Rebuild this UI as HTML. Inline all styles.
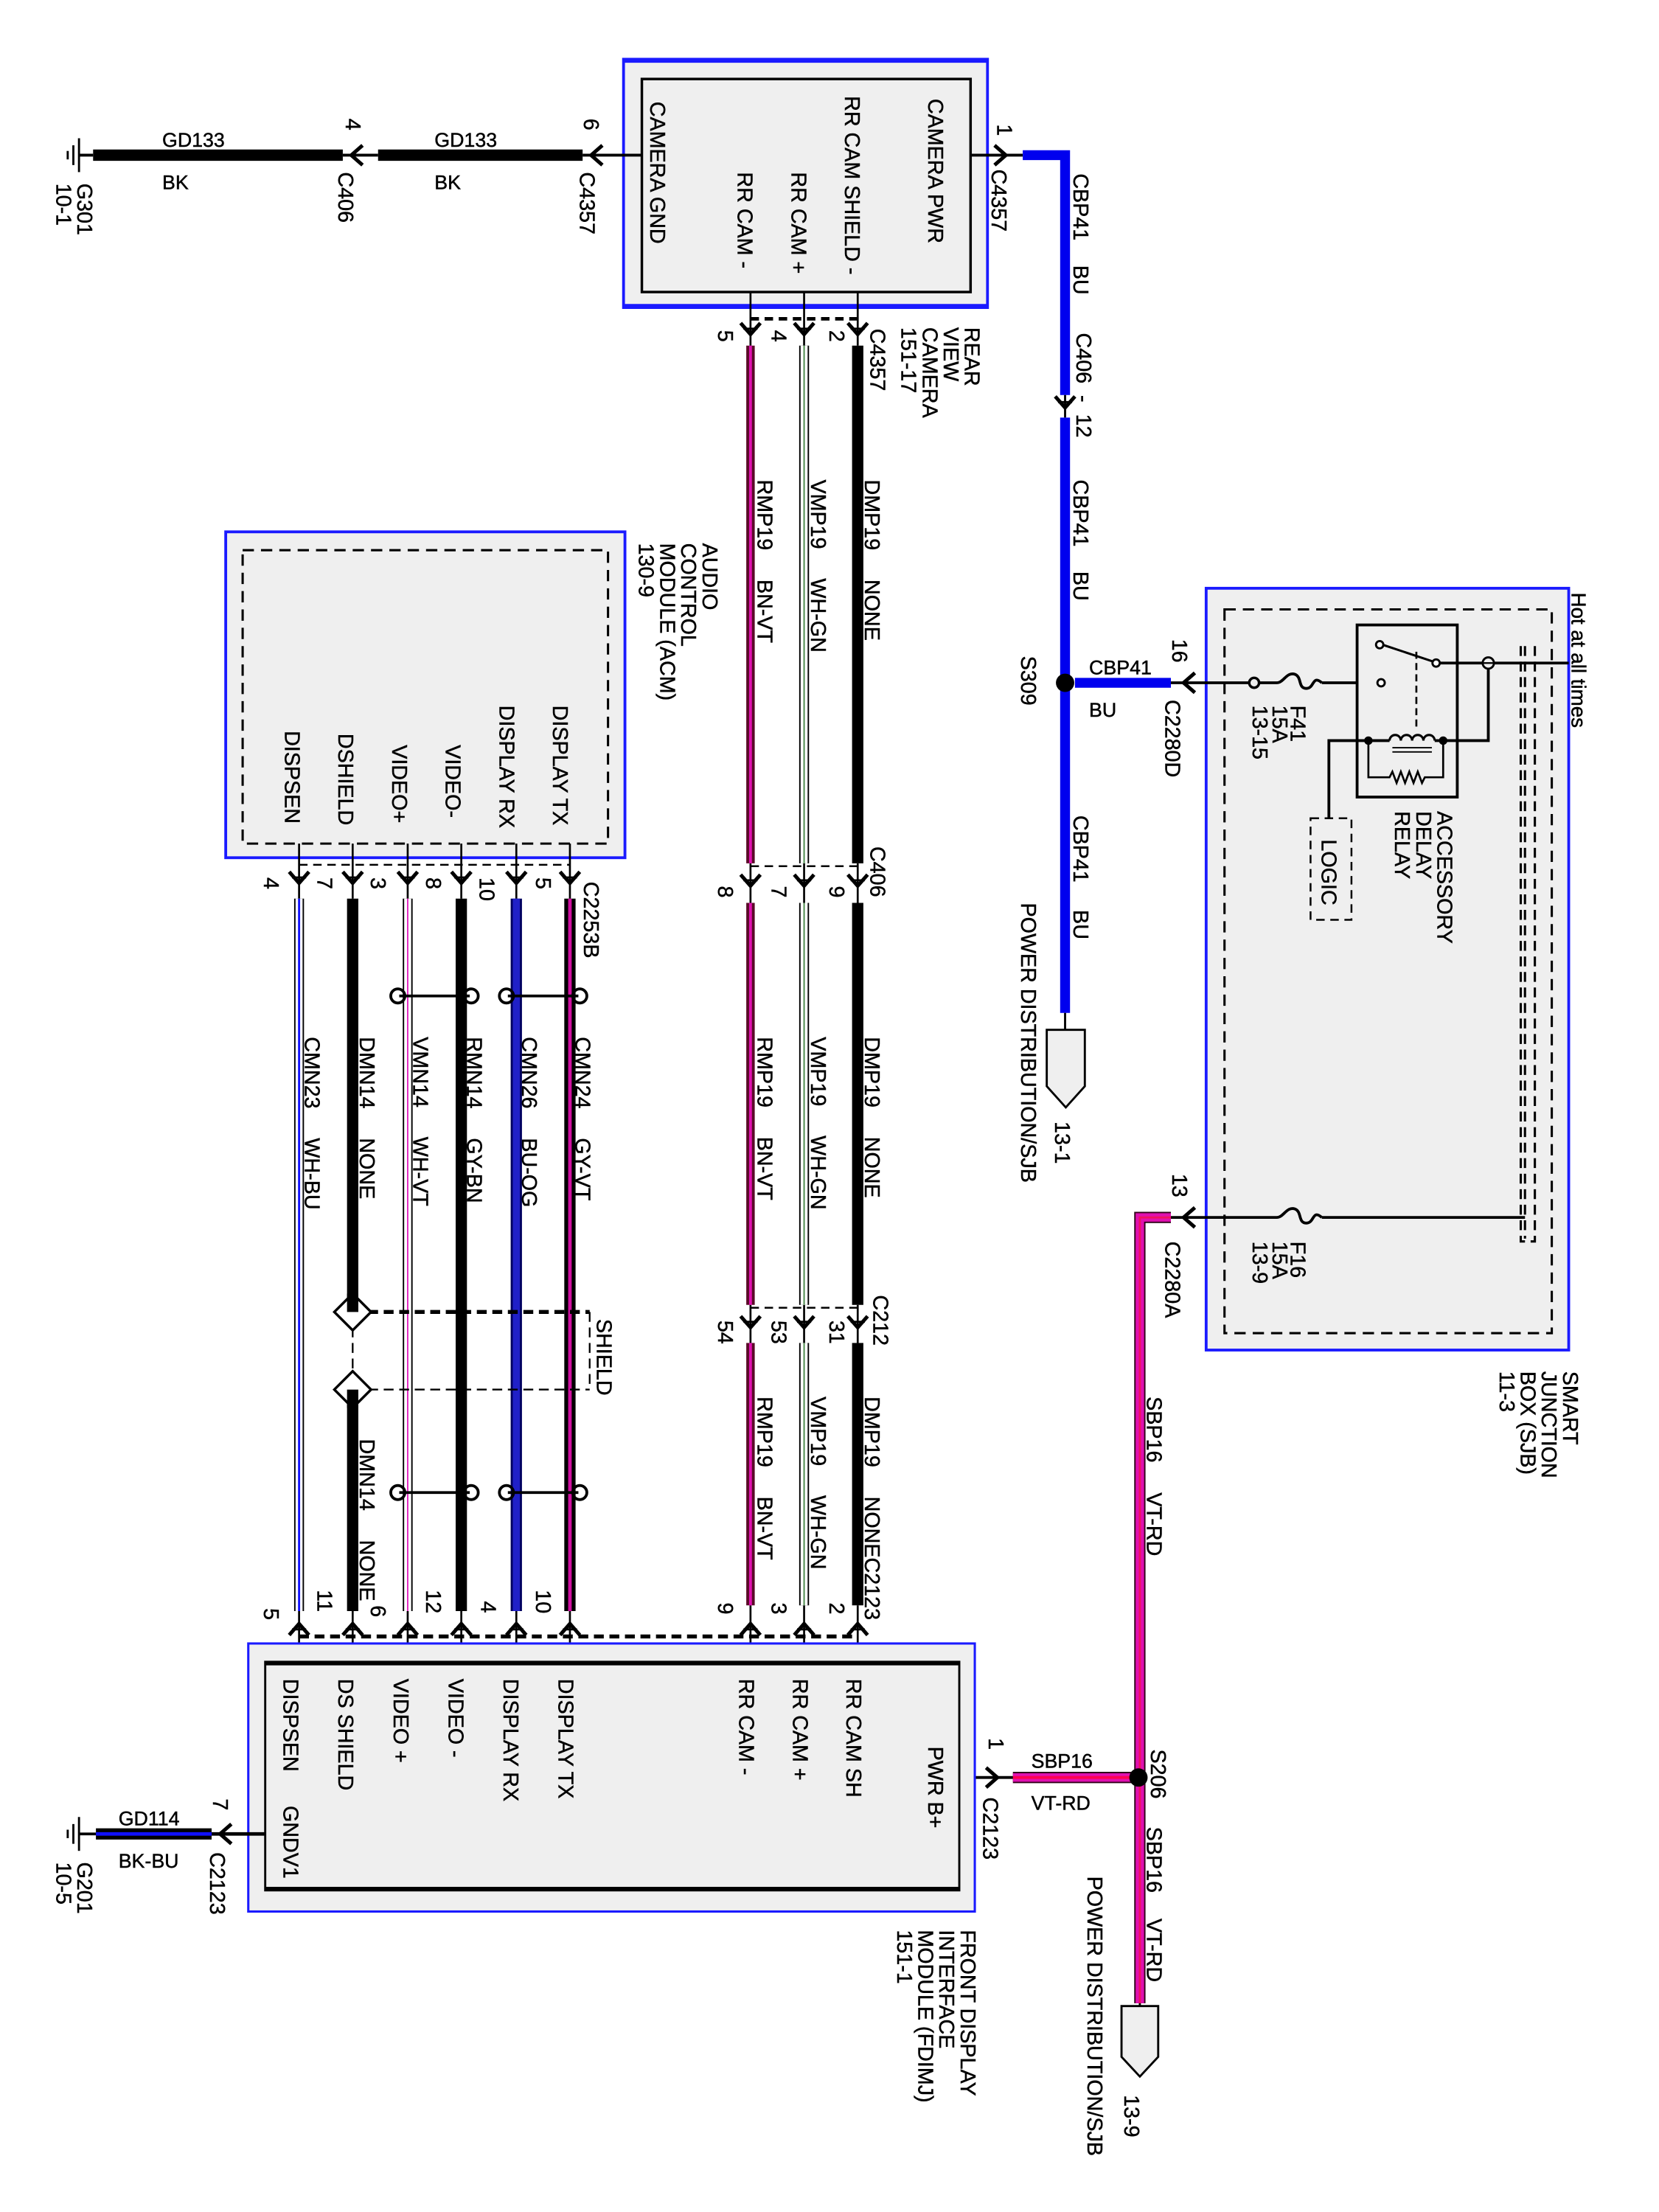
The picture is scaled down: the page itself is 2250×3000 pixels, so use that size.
<!DOCTYPE html>
<html><head><meta charset="utf-8"><style>
html,body{margin:0;padding:0;background:#fff}
svg{display:block}
text{font-family:"Liberation Sans",Arial,sans-serif;font-size:15px;fill:#000;white-space:pre;stroke:#000;stroke-width:0.25px}
.h{font-size:14px}
</style></head><body>
<svg width="2250" height="3000" viewBox="0 0 1176 1568" xmlns="http://www.w3.org/2000/svg" xml:space="preserve">
<defs>
<g id="cd"><polyline points="-7,-7 0,1 7,-7" fill="none" stroke="#000" stroke-width="2.6"/><line x1="-5" y1="-3" x2="5" y2="-3" stroke="#000" stroke-width="1.5"/></g>
<g id="cu"><polyline points="-7,7 0,-1 7,7" fill="none" stroke="#000" stroke-width="2.6"/><line x1="-5" y1="3" x2="5" y2="3" stroke="#000" stroke-width="1.5"/></g>
<g id="cl"><polyline points="7,-7 -1,0 7,7" fill="none" stroke="#000" stroke-width="2.6"/></g>
<g id="cr"><polyline points="-7,-7 1,0 -7,7" fill="none" stroke="#000" stroke-width="2.6"/></g>
</defs>

<!-- ========== REAR VIEW CAMERA ========== -->
<rect x="442" y="42" width="258" height="176" fill="#efefef" stroke="#1a1aff" stroke-width="2"/>
<line x1="442" y1="43" x2="700" y2="43" stroke="#1a1aff" stroke-width="3"/>
<line x1="442" y1="217" x2="700" y2="217" stroke="#1a1aff" stroke-width="3"/>
<rect x="455" y="56" width="233" height="151" fill="#efefef" stroke="#000" stroke-width="1.8"/>
<text transform="translate(658,70) rotate(90)">CAMERA PWR</text>
<text transform="translate(599,68) rotate(90)">RR CAM SHIELD -</text>
<text transform="translate(561,122) rotate(90)">RR CAM +</text>
<text transform="translate(523,122) rotate(90)">RR CAM -</text>
<text transform="translate(461,72) rotate(90)">CAMERA GND</text>
<text transform="translate(684,232) rotate(90)">REAR</text>
<text transform="translate(669,232) rotate(90)">VIEW</text>
<text transform="translate(654,232) rotate(90)">CAMERA</text>
<text transform="translate(639,232) rotate(90)">151-17</text>

<!-- ground G301 -->
<line x1="56" y1="98" x2="56" y2="122" stroke="#000" stroke-width="1.5"/>
<line x1="52" y1="103" x2="52" y2="117" stroke="#000" stroke-width="1.5"/>
<line x1="48" y1="107" x2="48" y2="113" stroke="#000" stroke-width="1.5"/>
<line x1="56" y1="110" x2="66" y2="110" stroke="#000" stroke-width="2"/>
<line x1="66" y1="110" x2="243" y2="110" stroke="#000" stroke-width="8"/>
<line x1="243" y1="110" x2="268" y2="110" stroke="#000" stroke-width="2"/>
<use href="#cl" x="250" y="110"/>
<line x1="268" y1="110" x2="413" y2="110" stroke="#000" stroke-width="8"/>
<line x1="413" y1="110" x2="455" y2="110" stroke="#000" stroke-width="2"/>
<use href="#cl" x="420" y="110"/>
<text class="h" x="115" y="104">GD133</text>
<text class="h" x="115" y="134">BK</text>
<text class="h" x="308" y="104">GD133</text>
<text class="h" x="308" y="134">BK</text>
<text transform="translate(245,84) rotate(90)">4</text>
<text transform="translate(414,84) rotate(90)">6</text>
<text transform="translate(240,122) rotate(90)">C406</text>
<text transform="translate(411,122) rotate(90)">C4357</text>
<text transform="translate(55,130) rotate(90)">G301</text>
<text transform="translate(40,130) rotate(90)">10-1</text>

<!-- CAMERA PWR -> blue -->
<line x1="688" y1="110" x2="725" y2="110" stroke="#000" stroke-width="2"/>
<use href="#cr" x="712" y="110"/>
<text transform="translate(707,88) rotate(90)">1</text>
<text transform="translate(703,120) rotate(90)">C4357</text>
<polyline points="725,110 755,110 755,280" fill="none" stroke="#0000ee" stroke-width="7"/>
<line x1="755" y1="280" x2="755" y2="296" stroke="#000" stroke-width="1.5"/>
<use href="#cd" x="755" y="288"/>
<line x1="755" y1="296" x2="755" y2="718" stroke="#0000ee" stroke-width="7"/>
<text transform="translate(761,123) rotate(90)">CBP41</text>
<text transform="translate(761,188) rotate(90)">BU</text>
<text transform="translate(763,236) rotate(90)">C406  -  12</text>
<text transform="translate(761,340) rotate(90)">CBP41</text>
<text transform="translate(761,405) rotate(90)">BU</text>
<text transform="translate(761,578) rotate(90)">CBP41</text>
<text transform="translate(761,645) rotate(90)">BU</text>
<text transform="translate(724,465) rotate(90)">S309</text>
<circle cx="755" cy="484" r="6.5" fill="#000"/>
<line x1="762" y1="484" x2="830" y2="484" stroke="#0000ee" stroke-width="7"/>
<text class="h" x="772" y="478">CBP41</text>
<text class="h" x="772" y="508">BU</text>
<!-- power dist 13-1 -->
<line x1="755" y1="718" x2="755" y2="730" stroke="#000" stroke-width="1.5"/>
<path d="M742,730 H769 V770 L755.5,785 L742,770 Z" fill="#efefef" stroke="#000" stroke-width="1.5"/>
<text transform="translate(724,640) rotate(90)">POWER DISTRIBUTION/SJB</text>
<text transform="translate(748,795) rotate(90)">13-1</text>

<!-- ========== SJB ========== -->
<rect x="855" y="417" width="257" height="540" fill="#efefef" stroke="#1a1aff" stroke-width="2"/>
<rect x="868" y="432" width="232" height="513" fill="none" stroke="#000" stroke-width="1.6" stroke-dasharray="8,5"/>
<line x1="830" y1="484" x2="979" y2="484" stroke="#000" stroke-width="2"/>
<use href="#cl" x="840" y="484"/>
<text transform="translate(831,453) rotate(90)">16</text>
<text transform="translate(826,496) rotate(90)">C2280D</text>
<rect x="905" y="478" width="32" height="12" fill="#efefef"/>
<path d="M905,484 C910,484 912,476 918,478 C923,480 920,488 926,488 C932,488 930,478 937,484" fill="none" stroke="#000" stroke-width="2"/>
<circle cx="889" cy="484" r="3.5" fill="#efefef" stroke="#000" stroke-width="1.8"/>
<text transform="translate(915,500) rotate(90)">F41</text>
<text transform="translate(902,500) rotate(90)">15A</text>
<text transform="translate(888,500) rotate(90)">13-15</text>
<!-- relay -->
<rect x="962" y="443" width="71" height="122" fill="#efefef" stroke="#000" stroke-width="2"/>
<circle cx="979" cy="484" r="2.6" fill="#fff" stroke="#000" stroke-width="1.5"/>
<circle cx="978" cy="457" r="2.6" fill="#fff" stroke="#000" stroke-width="1.5"/>
<line x1="980" y1="457" x2="1016" y2="469" stroke="#000" stroke-width="1.6"/>
<circle cx="1018" cy="470" r="2.6" fill="#fff" stroke="#000" stroke-width="1.5"/>
<line x1="1004" y1="462" x2="1004" y2="518" stroke="#000" stroke-width="1.4" stroke-dasharray="5,3"/>
<line x1="1021" y1="470" x2="1112" y2="470" stroke="#000" stroke-width="2"/>
<circle cx="1055" cy="470" r="4" fill="#efefef" stroke="#000" stroke-width="1.5"/>
<line x1="1051" y1="470" x2="1059" y2="470" stroke="#000" stroke-width="1.2"/>
<polyline points="942,580 942,525 985,525" fill="none" stroke="#000" stroke-width="2"/>
<path d="M985,525 a4,4 0 0 1 8,0 a4,4 0 0 1 8,0 a4,4 0 0 1 8,0 a4,4 0 0 1 8,0" fill="none" stroke="#000" stroke-width="1.6"/>
<line x1="987" y1="530" x2="1015" y2="530" stroke="#000" stroke-width="1"/>
<line x1="987" y1="533" x2="1015" y2="533" stroke="#000" stroke-width="1"/>
<polyline points="1017,525 1055,525 1055,474" fill="none" stroke="#000" stroke-width="2"/>
<circle cx="970" cy="525" r="3" fill="#000"/>
<circle cx="1023" cy="525" r="3" fill="#000"/>
<polyline points="970,525 970,551 985,551 987,547 990,555 993,547 996,555 999,547 1002,555 1005,547 1008,555 1010,551 1023,551 1023,525" fill="none" stroke="#000" stroke-width="1.4"/>
<rect x="929" y="580" width="29" height="72" fill="none" stroke="#000" stroke-width="1.3" stroke-dasharray="6,4"/>
<text transform="translate(937,595) rotate(90)">LOGIC</text>
<text transform="translate(1019,575) rotate(90)">ACCESSORY</text>
<text transform="translate(1004,575) rotate(90)">DELAY</text>
<text transform="translate(989,575) rotate(90)">RELAY</text>
<!-- bus bar -->
<polyline points="1078,458 1078,880 1088,880 1088,458" fill="none" stroke="#000" stroke-width="1.6" stroke-dasharray="7,4"/>
<line x1="1081" y1="458" x2="1081" y2="878" stroke="#000" stroke-width="1.6" stroke-dasharray="7,4"/>
<text transform="translate(1114,420) rotate(90)" style="font-size:14.5px">Hot at all times</text>
<!-- F16 -->
<line x1="830" y1="863" x2="1081" y2="863" stroke="#000" stroke-width="2"/>
<use href="#cl" x="840" y="863"/>
<rect x="905" y="857" width="32" height="12" fill="#efefef"/>
<path d="M905,863 C910,863 912,855 918,857 C923,859 920,867 926,867 C932,867 930,857 937,863" fill="none" stroke="#000" stroke-width="2"/>
<text transform="translate(915,880) rotate(90)">F16</text>
<text transform="translate(902,880) rotate(90)">15A</text>
<text transform="translate(888,880) rotate(90)">13-9</text>
<text transform="translate(831,832) rotate(90)">13</text>
<text transform="translate(826,880) rotate(90)">C2280A</text>
<text transform="translate(1108,972) rotate(90)">SMART</text>
<text transform="translate(1093,972) rotate(90)">JUNCTION</text>
<text transform="translate(1078,972) rotate(90)">BOX (SJB)</text>
<text transform="translate(1063,972) rotate(90)">11-3</text>

<!-- magenta SBP16 -->
<g fill="none">
<polyline points="830,863 808,863 808,1420" stroke="#300018" stroke-width="8"/>
<polyline points="830,863 808,863 808,1420" stroke="#e010b0" stroke-width="6"/>
<polyline points="830,863 808,863 808,1420" stroke="#f01060" stroke-width="1.5"/>
<line x1="718" y1="1260" x2="802" y2="1260" stroke="#300018" stroke-width="8"/>
<line x1="718" y1="1260" x2="802" y2="1260" stroke="#e010b0" stroke-width="6"/>
<line x1="718" y1="1260" x2="802" y2="1260" stroke="#ff0050" stroke-width="2"/>
</g>
<circle cx="807" cy="1260" r="6.5" fill="#000"/>
<text class="h" x="731" y="1253">SBP16</text>
<text class="h" x="731" y="1283">VT-RD</text>
<text transform="translate(813,990) rotate(90)">SBP16</text>
<text transform="translate(813,1058) rotate(90)">VT-RD</text>
<text transform="translate(816,1240) rotate(90)">S206</text>
<text transform="translate(813,1295) rotate(90)">SBP16</text>
<text transform="translate(813,1360) rotate(90)">VT-RD</text>
<line x1="808" y1="1420" x2="808" y2="1428" stroke="#000" stroke-width="1.5"/>
<path d="M795,1422 H821 V1458 L808,1472 L795,1458 Z" fill="#efefef" stroke="#000" stroke-width="1.5"/>
<text transform="translate(771,1330) rotate(90)">POWER DISTRIBUTION/SJB</text>
<text transform="translate(797,1485) rotate(90)">13-9</text>
<line x1="680" y1="1260" x2="718" y2="1260" stroke="#000" stroke-width="2"/>
<use href="#cr" x="706" y="1260"/>
<text transform="translate(701,1232) rotate(90)">1</text>
<text transform="translate(697,1274) rotate(90)">C2123</text>

<!-- ========== camera harness ========== -->
<g stroke="#000" stroke-width="1.4">
<line x1="608" y1="207" x2="608" y2="245"/><line x1="570" y1="207" x2="570" y2="245"/><line x1="532" y1="207" x2="532" y2="245"/>
<line x1="608" y1="612" x2="608" y2="640"/><line x1="570" y1="612" x2="570" y2="640"/><line x1="532" y1="612" x2="532" y2="640"/>
<line x1="608" y1="925" x2="608" y2="952"/><line x1="570" y1="925" x2="570" y2="952"/><line x1="532" y1="925" x2="532" y2="952"/>
<line x1="608" y1="1138" x2="608" y2="1178"/><line x1="570" y1="1138" x2="570" y2="1178"/><line x1="532" y1="1138" x2="532" y2="1178"/>
</g>
<line x1="532" y1="226" x2="608" y2="226" stroke="#000" stroke-width="2.5" stroke-dasharray="6,4"/>
<line x1="532" y1="614" x2="608" y2="614" stroke="#000" stroke-width="1.3" stroke-dasharray="6,4"/>
<line x1="532" y1="927" x2="608" y2="927" stroke="#000" stroke-width="1.3" stroke-dasharray="6,4"/>
<use href="#cd" x="608" y="236"/><use href="#cd" x="570" y="236"/><use href="#cd" x="532" y="236"/>
<use href="#cd" x="608" y="627"/><use href="#cd" x="570" y="627"/><use href="#cd" x="532" y="627"/>
<use href="#cd" x="608" y="940"/><use href="#cd" x="570" y="940"/><use href="#cd" x="532" y="940"/>
<use href="#cu" x="608" y="1152"/><use href="#cu" x="570" y="1152"/><use href="#cu" x="532" y="1152"/>
<text transform="translate(588,234) rotate(90)">2</text>
<text transform="translate(547,234) rotate(90)">4</text>
<text transform="translate(509,234) rotate(90)">5</text>
<text transform="translate(617,233) rotate(90)">C4357</text>
<text transform="translate(588,628) rotate(90)">9</text>
<text transform="translate(547,628) rotate(90)">7</text>
<text transform="translate(509,628) rotate(90)">8</text>
<text transform="translate(617,600) rotate(90)">C406</text>
<text transform="translate(588,936) rotate(90)">31</text>
<text transform="translate(547,936) rotate(90)">53</text>
<text transform="translate(509,936) rotate(90)">54</text>
<text transform="translate(619,918) rotate(90)">C212</text>
<text transform="translate(588,1136) rotate(90)">2</text>
<text transform="translate(547,1136) rotate(90)">3</text>
<text transform="translate(509,1136) rotate(90)">9</text>
<!-- wire segments -->
<path d="M608,245V612M608,640V925M608,952V1138" stroke="#000" stroke-width="8" fill="none"/>
<path d="M570,245V612M570,640V925M570,952V1138" stroke="#000" stroke-width="7" fill="none"/>
<path d="M570,245V612M570,640V925M570,952V1138" stroke="#fff" stroke-width="5" fill="none"/>
<path d="M570,245V612M570,640V925M570,952V1138" stroke="#4a8a4a" stroke-width="1" fill="none"/>
<path d="M532,245V612M532,640V925M532,952V1138" stroke="#5a0a28" stroke-width="6" fill="none"/>
<path d="M532,245V612M532,640V925M532,952V1138" stroke="#e010b0" stroke-width="2" fill="none"/>
<text transform="translate(613,340) rotate(90)">DMP19     NONE</text>
<text transform="translate(575,340) rotate(90)">VMP19     WH-GN</text>
<text transform="translate(537,340) rotate(90)">RMP19     BN-VT</text>
<text transform="translate(613,735) rotate(90)">DMP19     NONE</text>
<text transform="translate(575,735) rotate(90)">VMP19     WH-GN</text>
<text transform="translate(537,735) rotate(90)">RMP19     BN-VT</text>
<text transform="translate(613,990) rotate(90)">DMP19     NONEC2123</text>
<text transform="translate(575,990) rotate(90)">VMP19     WH-GN</text>
<text transform="translate(537,990) rotate(90)">RMP19     BN-VT</text>

<!-- ========== ACM ========== -->
<rect x="160" y="377" width="283" height="231" fill="#efefef" stroke="#1a1aff" stroke-width="2"/>
<rect x="172" y="390" width="259" height="208" fill="none" stroke="#000" stroke-width="1.6" stroke-dasharray="8,5"/>
<text transform="translate(392,500) rotate(90)">DISPLAY TX</text>
<text transform="translate(354,500) rotate(90)">DISPLAY RX</text>
<text transform="translate(316,528) rotate(90)">VIDEO-</text>
<text transform="translate(278,528) rotate(90)">VIDEO+</text>
<text transform="translate(240,520) rotate(90)">DSHIELD</text>
<text transform="translate(202,518) rotate(90)">DISPSEN</text>
<text transform="translate(498,385) rotate(90)">AUDIO</text>
<text transform="translate(483,385) rotate(90)">CONTROL</text>
<text transform="translate(468,385) rotate(90)">MODULE (ACM)</text>
<text transform="translate(453,385) rotate(90)">130-9</text>
<line x1="212" y1="613" x2="404" y2="613" stroke="#000" stroke-width="1.3" stroke-dasharray="6,4"/>
<g stroke="#000" stroke-width="1.4">
<line x1="404" y1="598" x2="404" y2="637"/><line x1="366" y1="598" x2="366" y2="637"/><line x1="327" y1="598" x2="327" y2="637"/>
<line x1="289" y1="598" x2="289" y2="637"/><line x1="250" y1="598" x2="250" y2="637"/><line x1="212" y1="598" x2="212" y2="637"/>
<line x1="404" y1="1142" x2="404" y2="1178"/><line x1="366" y1="1142" x2="366" y2="1178"/><line x1="327" y1="1142" x2="327" y2="1178"/>
<line x1="289" y1="1142" x2="289" y2="1178"/><line x1="250" y1="1142" x2="250" y2="1178"/><line x1="212" y1="1142" x2="212" y2="1178"/>
</g>
<use href="#cd" x="404" y="625"/><use href="#cd" x="366" y="625"/><use href="#cd" x="327" y="625"/>
<use href="#cd" x="289" y="625"/><use href="#cd" x="250" y="625"/><use href="#cd" x="212" y="625"/>
<use href="#cu" x="404" y="1152"/><use href="#cu" x="366" y="1152"/><use href="#cu" x="327" y="1152"/>
<use href="#cu" x="289" y="1152"/><use href="#cu" x="250" y="1152"/><use href="#cu" x="212" y="1152"/>
<text transform="translate(380,622) rotate(90)">5</text>
<text transform="translate(340,622) rotate(90)">10</text>
<text transform="translate(302,622) rotate(90)">8</text>
<text transform="translate(263,622) rotate(90)">3</text>
<text transform="translate(225,622) rotate(90)">7</text>
<text transform="translate(187,622) rotate(90)">4</text>
<text transform="translate(414,625) rotate(90)">C2253B</text>
<text transform="translate(380,1127) rotate(90)">10</text>
<text transform="translate(341,1135) rotate(90)">4</text>
<text transform="translate(302,1127) rotate(90)">12</text>
<text transform="translate(263,1138) rotate(90)">6</text>
<text transform="translate(225,1127) rotate(90)">11</text>
<text transform="translate(187,1140) rotate(90)">5</text>
<!-- wires -->
<path d="M404,637V1142" stroke="#000" stroke-width="8" fill="none"/>
<path d="M404,637V1142" stroke="#d010a0" stroke-width="2.5" fill="none"/>
<path d="M366,637V1142" stroke="#000060" stroke-width="8" fill="none"/>
<path d="M366,637V1142" stroke="#2020c8" stroke-width="5" fill="none"/>
<path d="M327,637V1142" stroke="#000" stroke-width="8" fill="none"/>
<path d="M289,637V1142" stroke="#000" stroke-width="7" fill="none"/>
<path d="M289,637V1142" stroke="#fff" stroke-width="5" fill="none"/>
<path d="M289,637V1142" stroke="#e020c0" stroke-width="1" fill="none"/>
<path d="M250,637V928M250,988V1142" stroke="#000" stroke-width="8" fill="none"/>
<path d="M212,637V1142" stroke="#000" stroke-width="7" fill="none"/>
<path d="M212,637V1142" stroke="#fff" stroke-width="5" fill="none"/>
<path d="M212,637V1142" stroke="#1010ff" stroke-width="1.5" fill="none"/>
<!-- twist symbols -->
<g fill="none" stroke="#000" stroke-width="2">
<line x1="283" y1="706" x2="333" y2="706"/><ellipse cx="282" cy="706" rx="5" ry="5"/><ellipse cx="334" cy="706" rx="5" ry="5"/>
<line x1="360" y1="706" x2="410" y2="706"/><ellipse cx="359" cy="706" rx="5" ry="5"/><ellipse cx="411" cy="706" rx="5" ry="5"/>
<line x1="283" y1="1058" x2="333" y2="1058"/><ellipse cx="282" cy="1058" rx="5" ry="5"/><ellipse cx="334" cy="1058" rx="5" ry="5"/>
<line x1="360" y1="1058" x2="410" y2="1058"/><ellipse cx="359" cy="1058" rx="5" ry="5"/><ellipse cx="411" cy="1058" rx="5" ry="5"/>
</g>
<!-- shield -->
<line x1="250" y1="930" x2="418" y2="930" stroke="#000" stroke-width="2.8" stroke-dasharray="7,4"/>
<line x1="250" y1="985" x2="418" y2="985" stroke="#000" stroke-width="1.3" stroke-dasharray="7,4"/>
<line x1="418" y1="930" x2="418" y2="985" stroke="#000" stroke-width="1.2" stroke-dasharray="7,4"/>
<line x1="250" y1="930" x2="250" y2="985" stroke="#000" stroke-width="1.2" stroke-dasharray="7,4"/>
<path d="M250,917 L263,930 L250,943 L237,930 Z" fill="#fff" stroke="#000" stroke-width="1.8"/>
<path d="M250,972 L263,985 L250,998 L237,985 Z" fill="#fff" stroke="#000" stroke-width="1.8"/>
<line x1="250" y1="917" x2="250" y2="930" stroke="#000" stroke-width="8"/>
<line x1="250" y1="985" x2="250" y2="998" stroke="#000" stroke-width="8"/>
<text transform="translate(423,935) rotate(90)">SHIELD</text>
<text transform="translate(408,735) rotate(90)">CMN24     GY-VT</text>
<text transform="translate(370,735) rotate(90)">CMN26     BU-OG</text>
<text transform="translate(331,735) rotate(90)">RMN14     GY-BN</text>
<text transform="translate(293,735) rotate(90)">VMN14     WH-VT</text>
<text transform="translate(255,735) rotate(90)">DMN14     NONE</text>
<text transform="translate(216,735) rotate(90)">CMN23     WH-BU</text>
<text transform="translate(255,1020) rotate(90)">DMN14     NONE</text>

<!-- ========== FDIM ========== -->
<line x1="212" y1="1160" x2="608" y2="1160" stroke="#000" stroke-width="2.8" stroke-dasharray="7,4"/>
<rect x="176" y="1165" width="515" height="190" fill="#efefef" stroke="#1a1aff" stroke-width="1.6"/>
<rect x="188" y="1178" width="492" height="162" fill="#efefef" stroke="#000" stroke-width="1.5"/>
<line x1="188" y1="1179" x2="680" y2="1179" stroke="#000" stroke-width="3"/>
<line x1="188" y1="1339" x2="680" y2="1339" stroke="#000" stroke-width="3"/>
<text transform="translate(600,1190) rotate(90)">RR CAM SH</text>
<text transform="translate(562,1190) rotate(90)">RR CAM +</text>
<text transform="translate(524,1190) rotate(90)">RR CAM -</text>
<text transform="translate(396,1190) rotate(90)">DISPLAY TX</text>
<text transform="translate(357,1190) rotate(90)">DISPLAY RX</text>
<text transform="translate(318,1190) rotate(90)">VIDEO -</text>
<text transform="translate(279,1190) rotate(90)">VIDEO +</text>
<text transform="translate(240,1190) rotate(90)">DS SHIELD</text>
<text transform="translate(201,1190) rotate(90)">DISPSEN</text>
<text transform="translate(658,1238) rotate(90)">PWR B+</text>
<text transform="translate(201,1280) rotate(90)">GNDV1</text>
<text transform="translate(681,1368) rotate(90)">FRONT DISPLAY</text>
<text transform="translate(666,1368) rotate(90)">INTERFACE</text>
<text transform="translate(651,1368) rotate(90)">MODULE (FDIMJ)</text>
<text transform="translate(636,1368) rotate(90)">151-1</text>
<!-- ground G201 -->
<line x1="150" y1="1300" x2="188" y2="1300" stroke="#000" stroke-width="2.5"/>
<use href="#cl" x="157" y="1300"/>
<line x1="68" y1="1300" x2="150" y2="1300" stroke="#000" stroke-width="8"/>
<line x1="68" y1="1300" x2="150" y2="1300" stroke="#1010ff" stroke-width="2.5"/>
<line x1="56" y1="1300" x2="68" y2="1300" stroke="#000" stroke-width="2"/>
<line x1="56" y1="1288" x2="56" y2="1312" stroke="#000" stroke-width="1.5"/>
<line x1="52" y1="1293" x2="52" y2="1307" stroke="#000" stroke-width="1.5"/>
<line x1="48" y1="1297" x2="48" y2="1303" stroke="#000" stroke-width="1.5"/>
<text class="h" x="84" y="1294">GD114</text>
<text class="h" x="84" y="1324">BK-BU</text>
<text transform="translate(151,1275) rotate(90)">7</text>
<text transform="translate(149,1313) rotate(90)">C2123</text>
<text transform="translate(55,1320) rotate(90)">G201</text>
<text transform="translate(40,1320) rotate(90)">10-5</text>
</svg>
</body></html>
